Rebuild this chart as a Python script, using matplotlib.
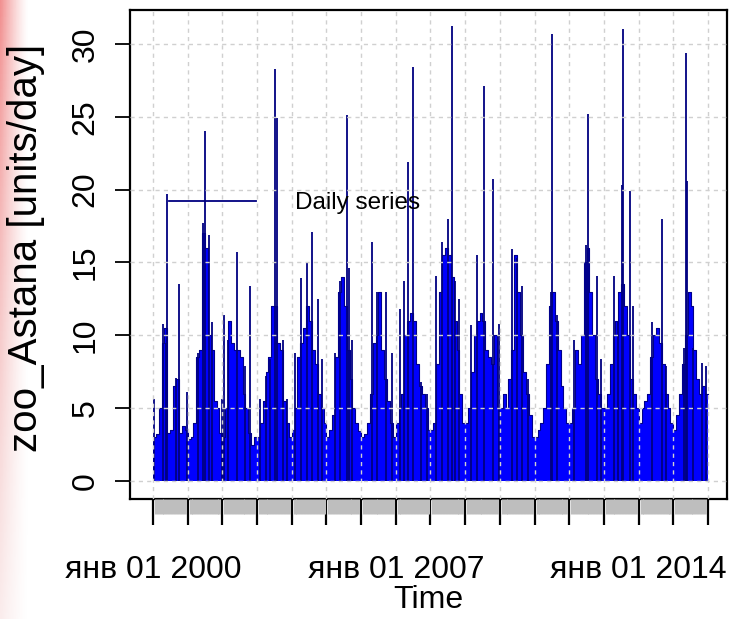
import numpy as np
import pandas as pd
import matplotlib
matplotlib.use("Agg")
import matplotlib.pyplot as plt
from matplotlib.lines import Line2D

plt.rcParams['font.family'] = ['Liberation Sans', 'DejaVu Sans']

# monthly base level of the series (Jan..Dec)
level_2000 = [3.0, 3.2, 5.0, 9.5, 10.5, 3.3, 3.5, 6.5, 7.0, 3.3, 3.8, 3.5]
level_2001 = [2.9, 3.0, 4.0, 8.5, 9.0, 17.0, 16.0, 10.0, 9.0, 5.5, 5.0, 3.3]
level_2002 = [3.0, 5.0, 11.0, 9.5, 9.0, 9.0, 8.5, 6.0, 5.0, 3.3, 2.5, 3.0]
level_2003 = [3.0, 4.0, 5.5, 7.5, 8.5, 12.0, 12.0, 9.5, 9.0, 5.5, 4.0, 3.0]
level_2004 = [3.5, 5.0, 8.5, 9.5, 10.5, 12.0, 11.0, 9.0, 8.0, 6.0, 5.0, 4.0]
level_2005 = [3.0, 3.5, 4.5, 8.5, 13.0, 14.0, 12.0, 9.0, 7.0, 5.0, 4.0, 3.4]
level_2006 = [3.0, 3.2, 4.0, 6.0, 9.5, 10.0, 13.0, 9.0, 7.0, 5.5, 4.0, 3.0]
level_2007 = [4.0, 5.0, 6.0, 10.0, 11.0, 11.5, 11.0, 8.0, 6.5, 6.0, 5.0, 3.5]
level_2008 = [3.5, 4.0, 8.0, 13.0, 15.5, 16.0, 15.5, 14.0, 11.0, 9.0, 6.0, 4.0]
level_2009 = [4.0, 5.0, 7.5, 10.0, 11.0, 11.5, 11.0, 9.0, 8.5, 8.0, 10.0, 5.0]
level_2010 = [5.0, 6.0, 5.0, 7.0, 9.0, 15.5, 13.0, 10.0, 7.5, 6.0, 4.5, 3.0]
level_2011 = [3.0, 3.5, 4.0, 5.0, 8.0, 12.0, 13.0, 11.0, 9.0, 6.5, 5.0, 4.0]
level_2012 = [4.0, 5.0, 9.0, 8.0, 10.0, 15.0, 16.0, 13.0, 10.0, 7.0, 6.0, 5.0]
level_2013 = [5.0, 6.0, 8.0, 10.0, 11.0, 13.0, 13.5, 12.0, 10.0, 7.0, 6.0, 5.0]
level_2014 = [4.0, 5.0, 5.5, 6.0, 8.5, 10.0, 10.5, 9.5, 8.0, 6.0, 5.0, 4.0]
level_2015 = [3.5, 4.5, 6.0, 8.0, 10.0, 13.0, 12.0, 9.0, 7.0, 6.0, 6.5, 6.0]

# single-day peaks above the base level
spike_dates = [
    '2000-01-08', '2000-04-12', '2000-05-12', '2000-05-26', '2000-08-29', '2000-09-27', '2000-12-27',
    '2001-04-20', '2001-06-06', '2001-06-28', '2001-08-08', '2001-09-17', '2001-12-27',
    '2002-01-23', '2002-03-04', '2002-06-07', '2002-08-29', '2002-10-16',
    '2003-01-30', '2003-04-02', '2003-05-16', '2003-07-06', '2003-08-04', '2003-10-01', '2003-11-10',
    '2004-02-06', '2004-04-12', '2004-06-10', '2004-07-31', '2004-10-01', '2004-11-10',
    '2005-04-05', '2005-05-19', '2005-08-08', '2005-08-29', '2005-09-27',
    '2006-04-23', '2006-06-18', '2006-09-24', '2006-11-25',
    '2007-02-17', '2007-03-26', '2007-05-12', '2007-07-02', '2007-09-27', '2007-11-29',
    '2008-03-04', '2008-05-05', '2008-07-01', '2008-08-11', '2008-09-20', '2008-10-31',
    '2009-02-28', '2009-05-01', '2009-07-19', '2009-10-19', '2009-12-27',
    '2010-05-08', '2010-06-25', '2010-08-22', '2010-10-23',
    '2011-06-25', '2011-07-06', '2011-08-26',
    '2012-02-21', '2012-06-25', '2012-07-13', '2012-10-23', '2012-12-02',
    '2013-04-20', '2013-05-30', '2013-07-06', '2013-07-17', '2013-09-28', '2013-11-07',
    '2014-05-23', '2014-09-06', '2014-10-16',
    '2015-04-20', '2015-05-12', '2015-05-27', '2015-08-01', '2015-11-03', '2015-12-09',
]
spike_values = [
    5.6, 10.8, 9.5, 19.7, 7.1, 13.5, 6.1,
    8.8, 17.7, 24.0, 16.9, 10.9, 5.6,
    11.4, 9.7, 15.7, 7.9, 13.4,
    5.6, 7.2, 8.4, 28.3, 24.9, 9.7, 5.6,
    8.8, 13.9, 15.0, 17.1, 12.5, 8.4,
    8.8, 13.7, 25.1, 14.6, 9.7,
    16.4, 13.0, 13.0, 8.8,
    11.8, 13.7, 21.9, 28.45, 6.8, 6.0,
    14.1, 16.4, 18.0, 31.2, 13.7, 12.5,
    10.7, 15.5, 27.1, 20.7, 10.8,
    15.9, 15.3, 13.4, 7.0,
    13.0, 30.7, 11.4,
    9.7, 16.2, 25.2, 14.1, 8.4,
    14.1, 10.9, 20.3, 31.0, 19.9, 12.0,
    10.9, 18.0, 7.9,
    9.1, 29.4, 20.6, 9.1, 8.1, 7.9,
]

label_years = [2000, 2007, 2014]

levels = (level_2000 + level_2001 + level_2002 + level_2003 + level_2004 + level_2005 +
          level_2006 + level_2007 + level_2008 + level_2009 + level_2010 + level_2011 +
          level_2012 + level_2013 + level_2014 + level_2015)
month_starts = pd.date_range('2000-01-01', '2016-01-01', freq='MS')
levels_ext = levels + [levels[-1]]
spikes = pd.to_datetime(spike_dates)

fig = plt.figure(figsize=(7.29, 6.19), dpi=100)

# soft pink strip on the far left of the screenshot
strip = fig.add_axes([0, 0, 28 / 729, 1])
h, w = 200, 20
rows = np.linspace(0, 1, h)[:, None]
cols = np.linspace(0, 1, w)[None, :]
rgba = np.zeros((h, w, 4))
rgba[..., 0] = 0.93
rgba[..., 1] = 0.42 + 0.3 * rows
rgba[..., 2] = 0.42 + 0.3 * rows
rgba[..., 3] = (1 - cols) ** 1.3 * 0.75 * (1 - 0.65 * rows)
strip.imshow(rgba, aspect='auto', extent=(0, 1, 0, 1))
strip.axis('off')

ax = fig.add_axes([130 / 729, 1 - 499 / 619, (727 - 130) / 729, (499 - 10) / 619])

ax.fill_between(month_starts, 0, levels_ext, step='post', color='#0000ff', lw=0, zorder=1)
ax.step(month_starts, levels_ext, where='post', color='#00008b', lw=0.8, zorder=2)
ax.vlines(spikes, 0, spike_values, color='#000080', lw=1.3, zorder=2)

start = pd.Timestamp('2000-01-01')
end = pd.Timestamp('2016-01-01')
ax.set_xlim(start - pd.Timedelta(days=242), end + pd.Timedelta(days=200))
ax.set_ylim(-1.24, 32.33)

year_ticks = pd.date_range('2000-01-01', '2016-01-01', freq='YS')
ax.set_xticks(year_ticks)
ax.set_xticklabels(['янв 01 %d' % d.year if d.year in label_years else '' for d in year_ticks])
minor = [d for d in month_starts if d.month != 1]
ax.set_xticks(minor, minor=True)

ax.set_yticks(range(0, 31, 5))
ax.tick_params(axis='y', labelrotation=90, length=11, width=1.3, labelsize=23, pad=10)
for lbl in ax.get_yticklabels():
    lbl.set_va('center')
ax.tick_params(axis='x', which='major', length=19, width=1.6, labelsize=23, pad=21)
ax.tick_params(axis='x', which='minor', length=11, width=2.2, color='#bebebe')

ax.grid(True, which='major', color='#d0d0d0', linestyle=(0, (3, 3)), lw=1)
ax.set_axisbelow(False)
for s in ax.spines.values():
    s.set_linewidth(1.6)

ax.set_xlabel('Time', fontsize=23, labelpad=0)
ax.set_ylabel('zoo_Astana [units/day]', fontsize=29)
ax.yaxis.set_label_coords(-0.142, 0.513)

handle = Line2D([], [], color='#000080', lw=1.3)
ax.legend([handle], ['Daily series'], loc='center left', bbox_to_anchor=(0.065, 0.605),
          frameon=False, fontsize=17.5, handlelength=3.6, handletextpad=1.6,
          borderpad=0, borderaxespad=0)

fig.savefig('out.png', dpi=100)
